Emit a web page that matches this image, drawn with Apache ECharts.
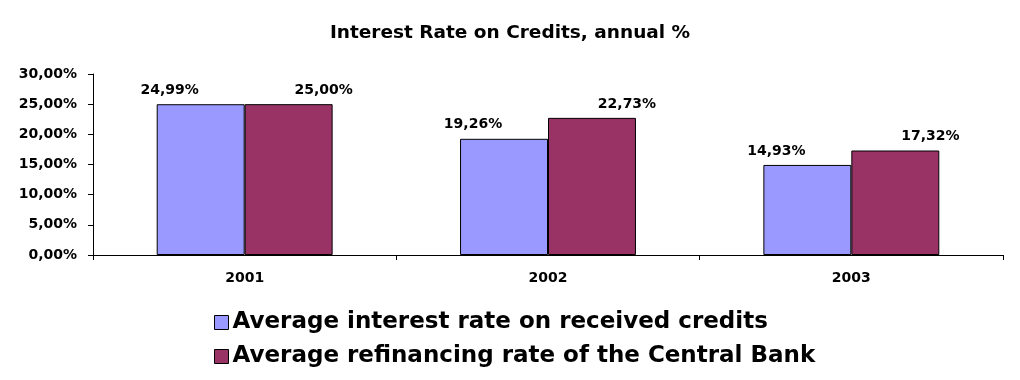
<!DOCTYPE html>
<html><head><meta charset="utf-8">
<script src="https://cdn.jsdelivr.net/npm/echarts@6/dist/echarts.min.js"></script>
<style>html,body{margin:0;padding:0;background:#fff}#c{width:1020px;height:380px}</style>
</head><body><div id="c"></div>
<script>
const categories = ['2001', '2002', '2003'];
const avgInterest = [24.99, 19.26, 14.93];
const refinancing = [25.00, 22.73, 17.32];
const seriesNames = ['Average interest rate on received credits', 'Average refinancing rate of the Central Bank'];
const yTicks = [0, 5, 10, 15, 20, 25, 30];

const fmt = v => v.toFixed(2).replace('.', ',') + '%';
const FONT = '"DejaVu Sans", sans-serif';
const chart = echarts.init(document.getElementById('c'), null, {renderer: 'canvas'});
chart.setOption({
  animation: false,
  backgroundColor: '#fff',
  title: {
    text: 'Interest Rate on Credits, annual %',
    left: 'center', top: 19,
    textStyle: {fontFamily: FONT, fontWeight: 'bold', fontSize: 18.5, color: '#000'}
  },
  grid: {left: 93, right: 17, top: 74, bottom: 125},
  legend: {
    orient: 'vertical', left: 209, top: 306,
    itemWidth: 14, itemHeight: 14, itemGap: 11,
    icon: 'rect',
    itemStyle: {borderColor: '#000', borderWidth: 1},
    textStyle: {fontFamily: FONT, fontWeight: 'bold', fontSize: 23, color: '#000', padding: [0,0,0,-1]},
    data: seriesNames
  },
  xAxis: {
    type: 'category', data: categories,
    axisLine: {lineStyle: {color: '#000', width: 1}},
    axisTick: {show: true, length: 5, lineStyle: {color: '#000'}},
    axisLabel: {fontFamily: FONT, fontWeight: 'bold', fontSize: 14, color: '#000', margin: 16}
  },
  yAxis: {
    type: 'value', min: 0, max: 30, interval: 5,
    axisLine: {show: true, lineStyle: {color: '#000', width: 1}},
    axisTick: {show: true, length: 5, lineStyle: {color: '#000'}},
    splitLine: {show: false},
    axisLabel: {fontFamily: FONT, fontWeight: 'bold', fontSize: 14, color: '#000', margin: 16,
      formatter: v => fmt(v)}
  },
  series: [
    {
      name: seriesNames[0], type: 'bar', data: avgInterest,
      barCategoryGap: '42%', barGap: '0%',
      itemStyle: {color: '#9999FF', borderColor: '#000', borderWidth: 1},
      label: {show: true, position: 'top', distance: 7, offset: [-31, 0], formatter: p => fmt(p.value),
        fontFamily: FONT, fontWeight: 'bold', fontSize: 14, color: '#000'}
    },
    {
      name: seriesNames[1], type: 'bar', data: refinancing,
      barCategoryGap: '42%', barGap: '0%',
      itemStyle: {color: '#993366', borderColor: '#000', borderWidth: 1},
      label: {show: true, position: 'top', distance: 7, offset: [35, 0], formatter: p => fmt(p.value),
        fontFamily: FONT, fontWeight: 'bold', fontSize: 14, color: '#000'}
    }
  ]
});
</script></body></html>
